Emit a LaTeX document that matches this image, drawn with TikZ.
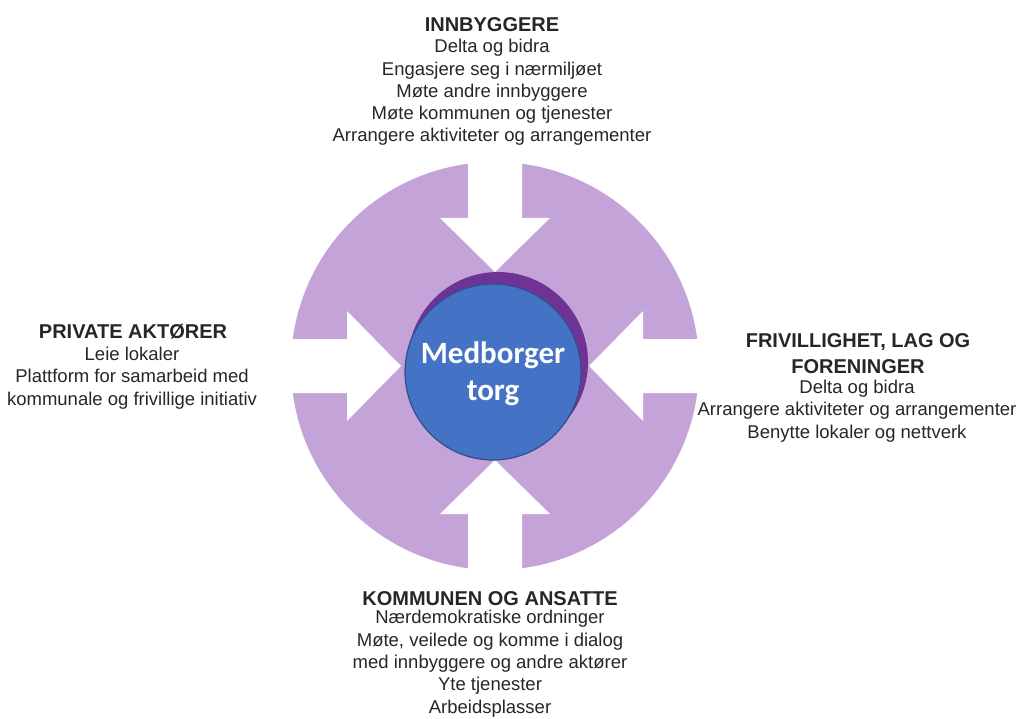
\documentclass[tikz,border=0pt]{standalone}
\usepackage{fontspec}
\setmainfont{Liberation Sans}
\newfontfamily\carlito{Carlito}
\definecolor{lpurple}{HTML}{C4A4D8}
\definecolor{dpurple}{HTML}{6E3395}
\definecolor{mblue}{HTML}{4472C4}
\definecolor{bblue}{HTML}{2F4F8F}
\definecolor{txt}{HTML}{262626}
\tikzset{
  ttl/.style={font=\fontsize{20}{25}\selectfont\bfseries, text=txt, align=center, inner sep=0pt, anchor=base},
  body/.style={font=\fontsize{18.5}{22.3}\selectfont, text=txt, align=center, inner sep=0pt, anchor=base},
  whitearrow/.style={fill=white, draw=none},
}
\begin{document}
\begin{tikzpicture}[x=1pt,y=-1pt]
\useasboundingbox (0,0) rectangle (1020,719);
\coordinate (C) at (495,366);
% big purple disc
\fill[lpurple] (C) circle[radius=204];
% white arrows
\begin{scope}
\clip (C) circle[radius=206];
\foreach \a in {0,90,180,270}{
  \fill[whitearrow, rotate around={\a:(C)}]
    (468,100) -- (468,218) -- (440,218) -- (495,272) -- (550,218) -- (522,218) -- (522,100) -- cycle;
}
\end{scope}
% shadow + center circle
\fill[dpurple] (498,362) circle[radius=90];
\node[circle, fill=mblue, draw=bblue, line width=1.2pt, minimum size=176pt, inner sep=0pt] (torg) at (493,372) {};
\node[font=\carlito\fontsize{31}{37}\selectfont\bfseries, text=white, align=center, inner sep=0pt, anchor=base] (torgtxt) at (493,400) {Medborger\\torg};
% top block (base anchor = last line)
\node[ttl] (innb) at (492,32) {INNBYGGERE};
\node[body] (innbtxt) at (492,142) {Delta og bidra\\Engasjere seg i nærmiljøet\\Møte andre innbyggere\\Møte kommunen og tjenester\\Arrangere aktiviteter og arrangementer};
% left block
\node[ttl] (priv) at (133,338) {PRIVATE AKTØRER};
\node[body] (privtxt) at (132,405) {Leie lokaler\\Plattform for samarbeid med\\kommunale og frivillige initiativ};
% right block
\node[ttl] (friv) at (858,373) {FRIVILLIGHET, LAG OG\\FORENINGER};
\node[body] (frivtxt) at (857,438) {Delta og bidra\\Arrangere aktiviteter og arrangementer\\Benytte lokaler og nettverk};
% bottom block
\node[ttl] (komm) at (490,605) {KOMMUNEN OG ANSATTE};
\node[body] (kommtxt) at (490,713) {Nærdemokratiske ordninger\\Møte, veilede og komme i dialog\\med innbyggere og andre aktører\\Yte tjenester\\Arbeidsplasser};
\end{tikzpicture}
\end{document}
